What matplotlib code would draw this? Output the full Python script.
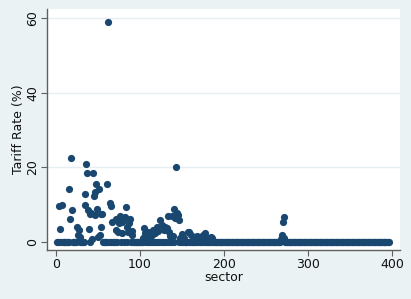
import matplotlib
matplotlib.use('Agg')
import matplotlib.pyplot as plt

# sectors with a non-zero tariff
nz_sector = [3, 5, 7, 15, 17, 18, 19, 25, 26, 27, 28, 34, 35, 36, 37, 38, 39, 40,
             42, 43, 44, 45, 46, 47, 48, 49, 50, 51, 52, 53, 54, 55, 61, 62, 64,
             66, 67, 71, 72, 74, 75, 76, 78, 79, 80, 82, 83, 85, 86, 87, 88, 90,
             91, 104, 105, 106, 108, 110, 112, 114, 116, 118, 120, 122, 124, 126,
             128, 130, 132, 133, 134, 136, 138, 139, 141, 142, 143, 144, 145, 146,
             148, 150, 152, 157, 158, 161, 166, 168, 170, 172, 175, 177, 180, 184,
             186, 268, 269, 270, 271, 272]
nz_tariff = [9.6, 3.5, 9.8, 14.1, 6.3, 22.5, 8.6, 4.1, 1.9, 3.2, 1.4, 13.0, 9.8,
             20.9, 18.4, 8.6, 3.4, 7.6, 7.8, 0.7, 18.4, 12.3, 7.2, 13.3, 15.7,
             8.9, 1.4, 14.3, 1.9, 7.5, 3.9, 7.4, 15.5, 59.0, 10.6, 9.7, 5.5, 3.2,
             6.1, 2.8, 5.0, 7.1, 2.3, 5.5, 5.9, 6.8, 9.3, 4.1, 2.8, 5.2, 6.1, 2.9,
             1.9, 1.2, 3.8, 2.3, 1.5, 2.8, 1.0, 1.8, 3.2, 2.5, 4.1, 2.9, 5.9, 4.6,
             3.2, 4.1, 3.8, 7.0, 2.8, 1.5, 7.0, 1.6, 8.8, 6.4, 20.2, 7.7, 7.3, 6.0,
             1.2, 2.2, 1.0, 2.8, 2.6, 1.8, 1.2, 1.5, 1.0, 1.3, 1.8, 2.5, 1.0, 1.3,
             1.0, 0.8, 1.9, 5.5, 6.8, 1.2]

# all other sectors 1..396 sit at 0
sector = list(range(1, 397))
lookup = dict(zip(nz_sector, nz_tariff))
tariff = [lookup.get(s, 0.0) for s in sector]

x_ticks = [0, 100, 200, 300, 400]
y_ticks = [0, 20, 40, 60]

bg = '#EAF2F3'
navy = '#1A476F'

fig = plt.figure(figsize=(4.11, 2.99), dpi=100, facecolor=bg)
ax = fig.add_axes([47 / 411, 1 - 250 / 299, 353 / 411, 241 / 299])
ax.set_facecolor('white')

ax.scatter(sector, tariff, s=27, color=navy, linewidths=0, zorder=3)

ax.set_xlim(-10.7, 409.5)
ax.set_ylim(-2.15, 62.55)
ax.set_xticks(x_ticks)
ax.set_yticks(y_ticks)
ax.set_yticklabels([str(v) for v in y_ticks], rotation=90, va='center')
for v in y_ticks[1:]:
    ax.axhline(v, color='#E6EEF1', lw=1.0, zorder=1)

for side in ['top', 'right']:
    ax.spines[side].set_visible(False)
for side in ['left', 'bottom']:
    ax.spines[side].set_color('#606060')
    ax.spines[side].set_linewidth(1.0)
ax.tick_params(axis='both', direction='out', length=4, width=0.8,
               color='#606060', labelsize=9, labelcolor='#111111', pad=2)
ax.tick_params(axis='y', pad=1.5)

ax.set_xlabel('sector', fontsize=9, color='#111111', labelpad=0)
ax.set_ylabel('Tariff Rate (%)', fontsize=9, color='#111111', labelpad=1)

fig.savefig('out.png', dpi=100, facecolor=bg)
